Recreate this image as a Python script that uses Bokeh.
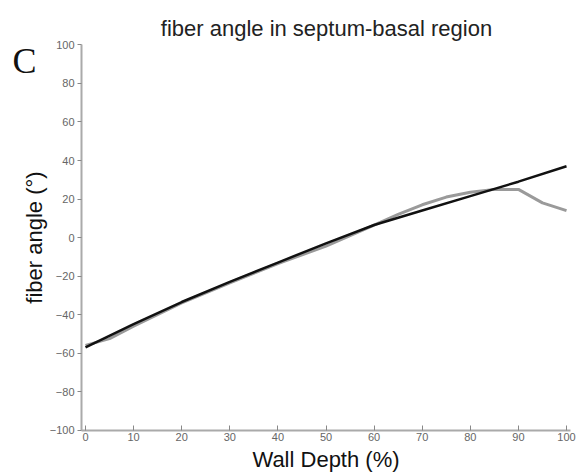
from bokeh.plotting import figure
from bokeh.models import Label, Range1d, FixedTicker, LinearAxis
from bokeh.embed import file_html
from bokeh.resources import INLINE

# data
depth_black = [0, 10, 20, 30, 40, 50, 60, 70, 80, 90, 100]
angle_black = [-57, -45, -33.5, -23, -13, -3, 6.5, 14, 21.5, 29, 37]

depth_gray = [0, 5, 10, 20, 30, 40, 50, 60, 65, 70, 75, 80, 85, 90, 95, 100]
angle_gray = [-56, -52.5, -46, -34, -23.5, -13.5, -4.5, 6.5, 12, 17, 21, 23.5, 25, 25, 18, 14]

x_ticks = [0, 10, 20, 30, 40, 50, 60, 70, 80, 90, 100]
y_ticks = [-100, -80, -60, -40, -20, 0, 20, 40, 60, 80, 100]

W, H = 579, 475
# frame spans the whole canvas; axes are pinned at their data positions
p = figure(width=W, height=H, output_backend="svg", toolbar_location=None,
           x_axis_type=None, y_axis_type=None,
           x_range=Range1d(-17.67, 102.70), y_range=Range1d(-123.6, 123.1),
           min_border_left=0, min_border_right=0, min_border_top=0, min_border_bottom=0)

p.outline_line_color = None
p.grid.visible = False
p.background_fill_color = "white"

xaxis = LinearAxis(fixed_location=-100, bounds=(-0.83, 100.8))
yaxis = LinearAxis(fixed_location=-0.83, bounds=(-100, 100))
p.add_layout(xaxis, "below")
p.add_layout(yaxis, "left")

for ax in (xaxis, yaxis):
    ax.axis_line_color = "#aaaaaa"
    ax.axis_line_width = 2
    ax.major_tick_line_color = "#888888"
    ax.minor_tick_line_color = None
    ax.major_label_text_color = "#666666"
    ax.major_label_text_font = "Liberation Sans"
    ax.major_label_text_font_size = "11px"
    ax.axis_label_text_font = "Liberation Sans"
    ax.axis_label_text_font_size = "22px"
    ax.axis_label_text_font_style = "normal"
    ax.axis_label_text_color = "#111111"

xaxis.ticker = FixedTicker(ticks=x_ticks)
yaxis.ticker = FixedTicker(ticks=y_ticks)
xaxis.major_tick_in = 5
xaxis.major_tick_out = 0
yaxis.major_tick_in = 0
yaxis.major_tick_out = 4
xaxis.major_label_standoff = 3
yaxis.major_label_standoff = 3
xaxis.axis_label = "Wall Depth (%)"
yaxis.axis_label = "fiber angle (°)"
xaxis.axis_label_standoff = 2
yaxis.axis_label_standoff = 0

p.line(depth_gray, angle_gray, line_color="#9a9a9a", line_width=3)
p.line(depth_black, angle_black, line_color="#111111", line_width=2.5)

p.add_layout(Label(x=50.1, y=108.6, text="fiber angle in septum-basal region",
                   text_align="center", text_baseline="middle",
                   text_font="Liberation Sans", text_font_size="22px", text_color="#222222"))
p.add_layout(Label(x=-15.2, y=91.5, text="C", text_baseline="middle",
                   text_font="Liberation Serif", text_font_size="36px", text_color="#111111"))

open("out.html", "w").write(file_html(p, INLINE))
